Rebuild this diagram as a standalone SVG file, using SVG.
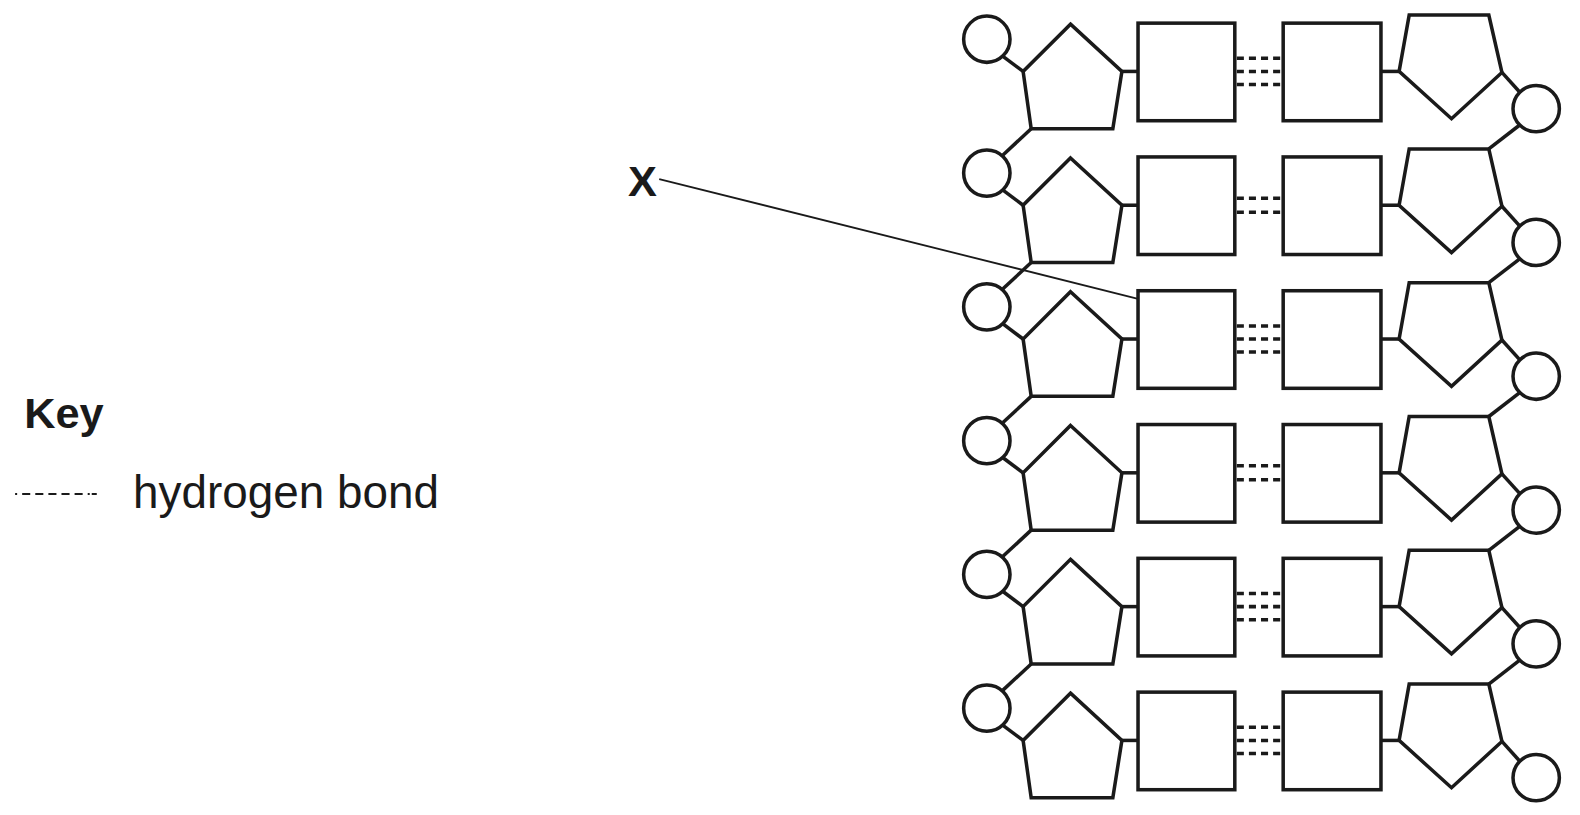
<svg xmlns="http://www.w3.org/2000/svg" xmlns:xlink="http://www.w3.org/1999/xlink" width="1580" height="815" viewBox="0 0 1580 815">
<style>
.s{fill:#fff;stroke:#1a1a1a;stroke-width:3.5;stroke-linejoin:miter}
.l{stroke:#1a1a1a;stroke-width:3.5;fill:none}
.h{stroke:#1a1a1a;stroke-width:3.5;stroke-dasharray:7,5;fill:none}
.t{font-family:"Liberation Sans",Arial,sans-serif;fill:#1a1a1a}
</style>
<defs>
<g id="row">
<line class="l" x1="995" y1="56" x2="1015" y2="71"/>
<line class="l" x1="1113" y1="71" x2="1129" y2="71"/>
<line class="l" x1="1370" y1="71" x2="1388" y2="71"/>
<line class="l" x1="1490" y1="72" x2="1508" y2="92"/>
<circle class="s" cx="979" cy="39" r="23"/>
<polygon class="s" points="1062,24 1113,71 1104,128 1023,128 1015,71"/>
<rect class="s" x="1129" y="23" width="96" height="97"/>
<rect class="s" x="1273" y="23" width="97" height="97"/>
<polygon class="s" points="1398,15 1477,15 1490,72 1440,118 1388,71"/>
<circle class="s" cx="1524" cy="108" r="23"/>
</g>
<g id="h3"><line class="h" x1="1227" y1="58" x2="1273" y2="58"/><line class="h" x1="1227" y1="71" x2="1273" y2="71"/><line class="h" x1="1227" y1="84" x2="1273" y2="84"/></g>
<g id="h2"><line class="h" x1="1227" y1="64" x2="1273" y2="64"/><line class="h" x1="1227" y1="78" x2="1273" y2="78"/></g>
</defs>
<g transform="scale(1.008,1.006)">
<g id="connectors">
<line class="l" x1="1023" y1="128" x2="995" y2="154"/>
<line class="l" x1="1023" y1="261" x2="995" y2="287"/>
<line class="l" x1="1023" y1="394" x2="995" y2="420"/>
<line class="l" x1="1023" y1="527" x2="995" y2="553"/>
<line class="l" x1="1023" y1="660" x2="995" y2="686"/>
<line class="l" x1="1508" y1="124" x2="1477" y2="148"/>
<line class="l" x1="1508" y1="257" x2="1477" y2="281"/>
<line class="l" x1="1508" y1="390" x2="1477" y2="414"/>
<line class="l" x1="1508" y1="523" x2="1477" y2="547"/>
<line class="l" x1="1508" y1="656" x2="1477" y2="680"/>
</g>
<g id="row1"><use xlink:href="#row"/><use xlink:href="#h3"/></g>
<g id="row2" transform="translate(0,133)"><use xlink:href="#row"/><use xlink:href="#h2"/></g>
<g id="row3" transform="translate(0,266)"><use xlink:href="#row"/><use xlink:href="#h3"/></g>
<g id="row4" transform="translate(0,399)"><use xlink:href="#row"/><use xlink:href="#h2"/></g>
<g id="row5" transform="translate(0,532)"><use xlink:href="#row"/><use xlink:href="#h3"/></g>
<g id="row6" transform="translate(0,665)"><use xlink:href="#row"/><use xlink:href="#h3"/></g>
<g id="label-x">
<line x1="654" y1="178" x2="1129" y2="297" stroke="#1a1a1a" stroke-width="1.8"/>
<text class="t" x="623" y="195" font-size="43" font-weight="bold">X</text>
</g>
<g id="key">
<text class="t" x="24" y="425" font-size="43" font-weight="bold">Key</text>
<line x1="15" y1="491" x2="101" y2="491" stroke="#1a1a1a" stroke-width="2" stroke-dasharray="2,5,8,5,8,5,8,5,8,5,8,5,2"/>
<text class="t" x="132" y="505" font-size="45.5">hydrogen bond</text>
</g>
</g>
</svg>
